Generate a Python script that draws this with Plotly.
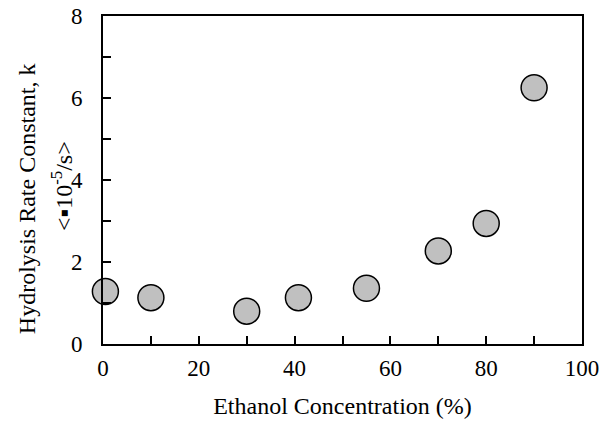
import plotly.graph_objects as go

ethanol = [0.5, 10, 30, 40.8, 55, 70, 80, 90]
rate_k = [1.28, 1.13, 0.80, 1.13, 1.36, 2.27, 2.94, 6.25]

x_ticks = [0, 20, 40, 60, 80, 100]
y_ticks = [0, 2, 4, 6, 8]

FONT = "Liberation Serif, Times New Roman, serif"

fig = go.Figure()
fig.add_trace(go.Scatter(
    x=ethanol, y=rate_k, mode="markers",
    marker=dict(size=26, color="#c0c0c0", line=dict(color="black", width=1.5)),
    cliponaxis=False, showlegend=False,
))

fig.update_layout(
    width=600, height=422,
    margin=dict(l=102.5, r=17.7, t=15.7, b=78.3),
    plot_bgcolor="white", paper_bgcolor="white",
    font=dict(family=FONT, size=24, color="black"),
    xaxis=dict(
        range=[0, 100], tickvals=x_ticks, ticks="inside", ticklen=8, tickwidth=1.5,
        minor=dict(dtick=10, ticks="inside", ticklen=8, tickwidth=1.5, tickcolor="black"),
        showline=True, linecolor="black", linewidth=1.8, mirror=True,
        showgrid=False, zeroline=False, tickcolor="black", automargin=False,
        tickfont=dict(size=23), ticklabelstandoff=2,
        title=dict(text="Ethanol Concentration (%)", font=dict(size=24), standoff=18),
    ),
    yaxis=dict(
        range=[0, 8], tickvals=y_ticks, ticks="inside", ticklen=8, tickwidth=1.5,
        minor=dict(dtick=1, ticks="inside", ticklen=8, tickwidth=1.5, tickcolor="black"),
        showline=True, linecolor="black", linewidth=1.8, mirror=True,
        showgrid=False, zeroline=False, tickcolor="black", automargin=False,
        tickfont=dict(size=23), ticklabelstandoff=14,
    ),
)

fig.add_annotation(
    text="Hydrolysis Rate Constant, k", textangle=-90,
    xref="paper", yref="paper", x=-0.157, y=0.444, xanchor="center", yanchor="middle",
    showarrow=False, font=dict(size=24),
)
fig.add_annotation(
    text="&lt;▪10<sup>-5</sup>/s&gt;", textangle=-90,
    xref="paper", yref="paper", x=-0.087, y=0.483, xanchor="center", yanchor="middle",
    showarrow=False, font=dict(size=24),
)

fig.write_html("out.html", config={"displayModeBar": False},
               post_script="document.body.style.margin='0';")
